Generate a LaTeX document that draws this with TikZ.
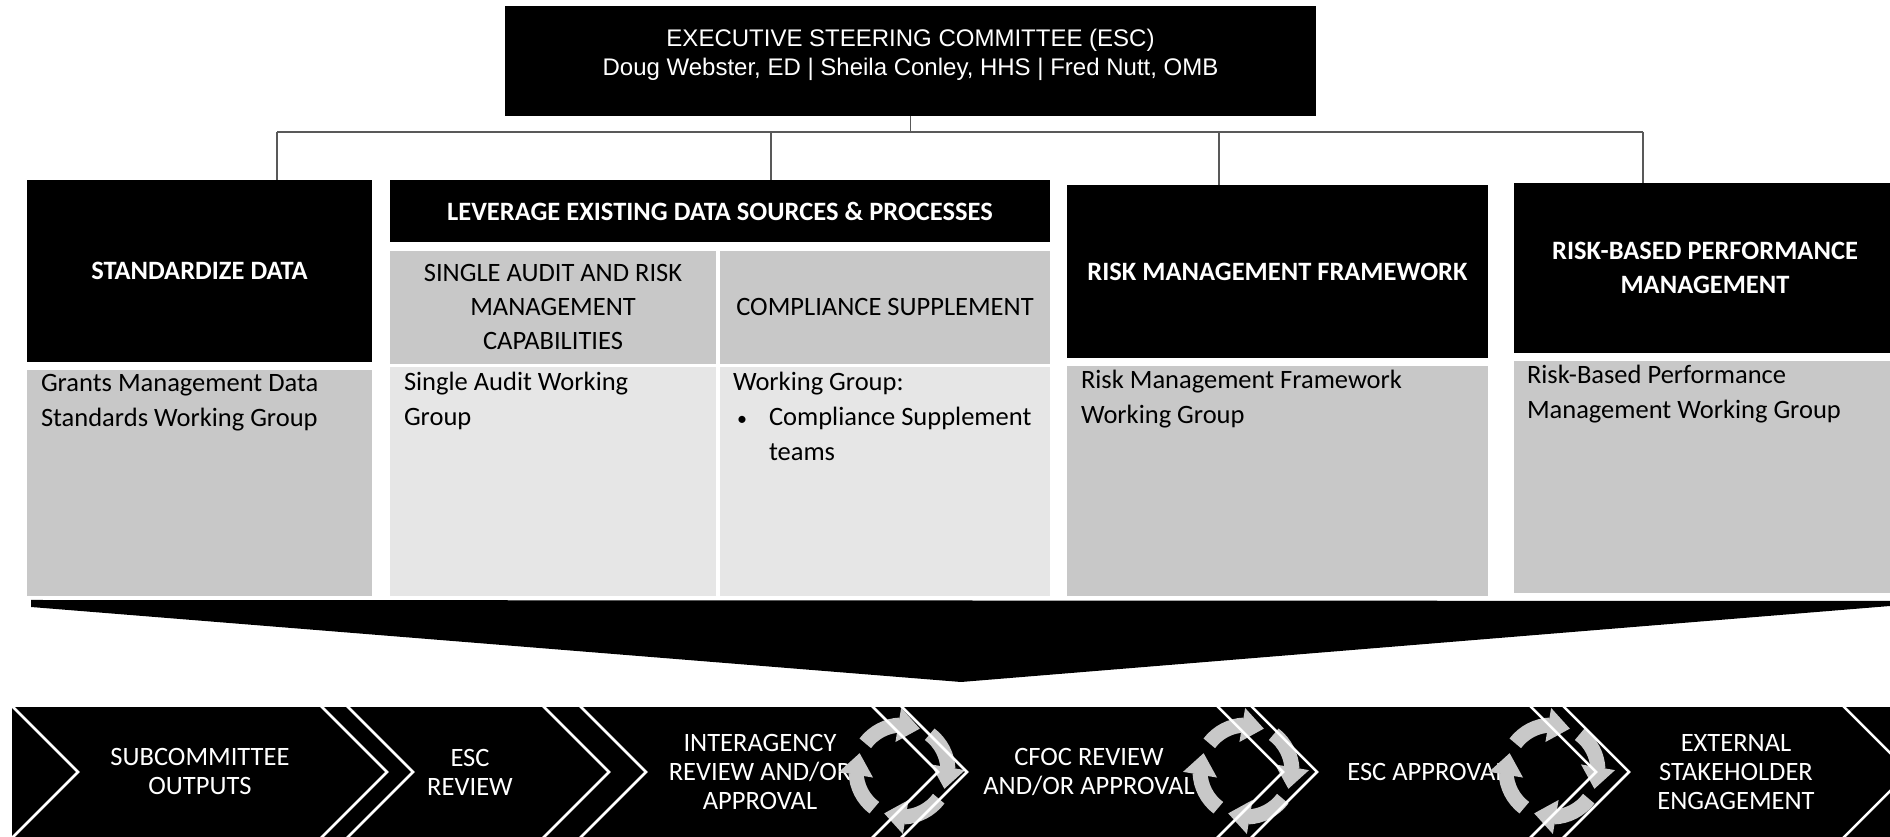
\documentclass[tikz,border=0pt]{standalone}
\usepackage{fontspec}
\setmainfont{Carlito}
\newfontfamily\escfont{Liberation Sans}
\usetikzlibrary{arrows.meta,bending}
\definecolor{boxgrey}{HTML}{C8C8C8}
\definecolor{cellgrey}{HTML}{E6E6E6}
\definecolor{linegrey}{HTML}{595959}

\begin{document}
\begin{tikzpicture}[x=1pt,y=1pt,
    headbox/.style={fill=black,text=white,inner sep=0pt,align=center,
      font=\fontsize{26.5}{34}\selectfont\bfseries},
    subhead/.style={fill=boxgrey,inner sep=0pt,align=center,
      font=\fontsize{26.5}{34}\selectfont},
    wgbox/.style={fill=boxgrey,inner sep=0pt},
    cellbox/.style={fill=cellgrey,inner sep=0pt},
    wgtext/.style={anchor=north west,inner sep=0pt,align=left,
      font=\fontsize{26.5}{35}\selectfont,execute at begin node=\strut},
    steptext/.style={text=white,align=center,font=\fontsize{26.5}{29}\selectfont},
    orgline/.style={draw=linegrey,line width=1.5pt},
    cyclearrow/.style={draw=boxgrey,line width=15pt,
      -{Triangle[width=33pt,length=22pt]}},
    chevline/.style={draw=white,line width=2.5pt}]
  \useasboundingbox (0,0) rectangle (1890,837);

  \node[fill=black,minimum width=811pt,minimum height=110pt] (esc) at (910.5,776) {};
  \node[text=white,align=center,font=\escfont\fontsize{24}{28.5}\selectfont] (esctitle)
    at ([yshift=6pt]esc.center)
    {EXECUTIVE STEERING COMMITTEE (ESC)\\Doug Webster, ED | Sheila Conley, HHS | Fred Nutt, OMB};

  \node[headbox,minimum width=345pt,minimum height=182pt] (sd) at (199.5,566) {STANDARDIZE DATA};
  \node[wgbox,minimum width=345pt,minimum height=226pt] (sdwg) at (199.5,354) {};
  \node[wgtext] (sdwgtext) at ([xshift=14pt,yshift=-4pt]sdwg.north west)
    {Grants Management Data\\Standards Working Group};

  \node[headbox,minimum width=660pt,minimum height=62pt] (lev) at (720,626)
    {LEVERAGE EXISTING DATA SOURCES \& PROCESSES};
  \node[subhead,minimum width=326pt,minimum height=113pt] (sa) at (553,529.5)
    {SINGLE AUDIT AND RISK\\MANAGEMENT\\CAPABILITIES};
  \node[subhead,minimum width=330pt,minimum height=113pt] (cs) at (885,529.5)
    {COMPLIANCE SUPPLEMENT};
  \node[cellbox,minimum width=326pt,minimum height=229pt] (sawg) at (553,355.5) {};
  \node[cellbox,minimum width=330pt,minimum height=229pt] (cswg) at (885,355.5) {};
  \node[wgtext] (sawgtext) at ([xshift=14pt,yshift=-5pt]sawg.north west) {Single Audit Working\\Group};
  \node[wgtext] (cswgtext) at ([xshift=13pt,yshift=-5pt]cswg.north west)
    {Working Group:\\\hspace*{4pt}\makebox[32pt][l]{\fontsize{20}{20}\selectfont\textbullet}Compliance Supplement\\\hspace*{36pt}teams};

  \node[headbox,minimum width=421pt,minimum height=173pt] (rmf) at (1277.5,565.5)
    {RISK MANAGEMENT FRAMEWORK};
  \node[wgbox,minimum width=421pt,minimum height=230pt] (rmfwg) at (1277.5,356) {};
  \node[wgtext] (rmfwgtext) at ([xshift=14pt,yshift=-4pt]rmfwg.north west)
    {Risk Management Framework\\Working Group};

  \node[headbox,minimum width=382pt,minimum height=170pt] (rbpm) at (1705,569)
    {RISK-BASED PERFORMANCE\\MANAGEMENT};
  \node[wgbox,minimum width=382pt,minimum height=232pt] (rbpmwg) at (1705,360) {};
  \node[wgtext] (rbpmwgtext) at ([xshift=13pt,yshift=-4pt]rbpmwg.north west)
    {Risk-Based Performance\\Management Working Group};

  \coordinate (bus1) at (277,705);
  \coordinate (bus2) at (771,705);
  \coordinate (bus3) at (1219,705);
  \coordinate (bus4) at (1643,705);
  \draw[orgline,line width=2.5pt] (bus1) -- (bus4);
  \draw[orgline] (esc.south) -- (esc.south |- bus1);
  \draw[orgline] (bus1) -- (bus1 |- sd.north);
  \draw[orgline] (bus2) -- (bus2 |- lev.north);
  \draw[orgline] (bus3) -- (bus3 |- rmf.north);
  \draw[orgline] (bus4) -- (bus4 |- rbpm.north);

  \fill (31,237) -- (1890,236) -- (1890,231) -- (961,155) -- (31,230) -- cycle;

  \fill (12,0) rectangle (1890,130);
  \node[steptext] (subout) at (200,65) {SUBCOMMITTEE\\OUTPUTS};
  \node[steptext] (escrev) at (470,65) {ESC\\REVIEW};
  \node[steptext] (interag) at (760,65) {INTERAGENCY\\REVIEW AND/OR\\APPROVAL};
  \node[steptext] (cfoc) at (1089,65) {CFOC REVIEW\\AND/OR APPROVAL};
  \node[steptext] (escapp) at (1427,65) {ESC APPROVAL};
  \node[steptext] (extstake) at (1736,65) {EXTERNAL\\STAKEHOLDER\\ENGAGEMENT};

  \coordinate (loop1) at (902,66);
  \coordinate (loop2) at (1246,66);
  \coordinate (loop3) at (1552,66);
  \foreach \c in {loop1,loop2,loop3}
    \foreach \a in {143,53,-37,-127}
      \draw[cyclearrow] ([shift={(\a:46pt)}]\c) arc[start angle=\a,delta angle=-76,radius=46pt];

  \foreach \l/\r in {12/321,347/543,580/872,901/1217,1251/1530,1563/1843} {
    \draw[chevline] (\l,131) -- ++(66,-66) -- ++(-66,-66);
    \draw[chevline] (\r,131) -- ++(66,-66) -- ++(-66,-66);
  }
\end{tikzpicture}
\end{document}
